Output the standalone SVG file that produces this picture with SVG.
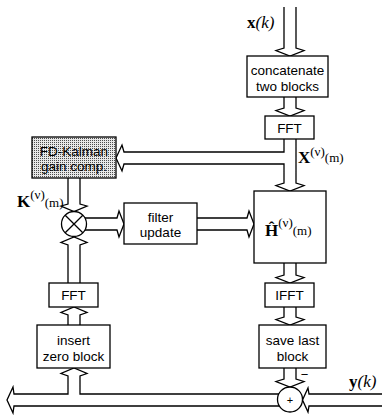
<svg xmlns="http://www.w3.org/2000/svg" width="382" height="415" viewBox="0 0 382 415">
<defs>
<pattern id="dots" width="2" height="2" patternUnits="userSpaceOnUse"><rect width="2" height="2" fill="#e8e8e8"/><rect width="1" height="1" fill="#4c4c4c"/></pattern>
</defs>
<style>
.box{fill:#fff;stroke:#000;stroke-width:1.3}
.ln{fill:none;stroke:#000;stroke-width:1.3;stroke-linejoin:miter}
.lbl{font-family:"Liberation Sans",Arial,sans-serif;font-size:13.5px;text-anchor:middle;fill:#000}
.m{font-family:"Liberation Serif","Times New Roman",serif;font-size:17px;fill:#000}
.b{font-weight:bold}
.i{font-style:italic}
.s{font-size:13px}
</style>
<rect width="382" height="415" fill="#fff"/>

<g id="connectors">
  <!-- x(k) input -->
  <path class="ln" d="M284,7 V48 L276,50.5 L290,56 L304,50.5 L296,48 V7"/>
  <!-- concat -> FFT -->
  <path class="ln" d="M284,97 V108 L276,110.5 L290,116 L304,110.5 L296,108 V97"/>
  <!-- FFT -> H and branch to gain -->
  <path class="ln" d="M296,139 V183 L304,185.5 L290,191 L276,185.5 L284,183 V164 H124 L122,171 L116,158 L122,145 L124,152 H284 V139"/>
  <!-- gain -> multiplier -->
  <path class="ln" d="M68,178 V204 L61,206 L74,211.5 L87,206 L80,204 V178"/>
  <!-- multiplier -> filter update -->
  <path class="ln" d="M85,218 H117 L119,211 L124,224 L119,237 L117,230 H85"/>
  <!-- filter update -> H -->
  <path class="ln" d="M197,218 H247 L249,211 L254,224 L249,237 L247,230 H197"/>
  <!-- H -> IFFT -->
  <path class="ln" d="M284,263 V275 L276,277.5 L290,283 L304,277.5 L296,275 V263"/>
  <!-- IFFT -> save -->
  <path class="ln" d="M284,307 V317 L276,319.5 L290,325 L304,319.5 L296,317 V307"/>
  <!-- save -> sum -->
  <path class="ln" d="M284,368 V379 L276,381.5 L290,387 L304,381.5 L296,379 V368"/>
  <!-- y(k) input -->
  <path class="ln" d="M382,394 H309 L308,388 L302.5,400 L308,412 L309,406 H382"/>
  <!-- bottom channel left, branch up to insert -->
  <path class="ln" d="M279,394 H80 V376 L87,373.5 L74,368 L61,373.5 L68,376 V394 H14 L13,387 L7,400 L13,413 L14,406 H279"/>
  <!-- insert -> FFT -->
  <path class="ln" d="M68,325 V315 L61,312.5 L74,307 L87,312.5 L80,315 V325"/>
  <!-- FFT -> multiplier -->
  <path class="ln" d="M68,283 V245 L61,242.5 L74,237 L87,242.5 L80,245 V283"/>
</g>

<g id="concat"><rect class="box" x="247" y="56" width="81" height="41"/><text class="lbl" x="287.5" y="75">concatenate</text><text class="lbl" x="287.5" y="90.5">two blocks</text></g>
<g id="fft1"><rect class="box" x="265" y="116" width="49" height="23"/><text class="lbl" x="289.5" y="132.5">FFT</text></g>
<g id="gain"><rect x="32" y="137" width="84" height="41" fill="url(#dots)" stroke="#000" stroke-width="1.3"/><text class="lbl" x="74" y="155.5">FD-Kalman</text><text class="lbl" x="74" y="171">gain comp.</text></g>
<g id="H"><rect class="box" x="254" y="191" width="72" height="72"/>
  <text class="m" x="265" y="236"><tspan class="b">Ĥ</tspan><tspan class="s" dy="-9">(ν)</tspan><tspan class="s" dy="8">(m)</tspan></text>
</g>
<g id="mult"><circle cx="74" cy="224" r="12.5" fill="#fff" stroke="#000" stroke-width="1.3"/><path class="ln" d="M65.2,215.2 L82.8,232.8 M82.8,215.2 L65.2,232.8"/></g>
<g id="update"><rect class="box" x="124" y="203" width="73" height="41"/><text class="lbl" x="160.5" y="221.5">filter</text><text class="lbl" x="160.5" y="237">update</text></g>
<g id="ifft"><rect class="box" x="265" y="283" width="49" height="24"/><text class="lbl" x="289.5" y="300">IFFT</text></g>
<g id="save"><rect class="box" x="259" y="325" width="67" height="43"/><text class="lbl" x="292.5" y="345">save last</text><text class="lbl" x="292.5" y="360.5">block</text></g>
<g id="fft2"><rect class="box" x="49" y="283" width="49" height="24"/><text class="lbl" x="73.5" y="300">FFT</text></g>
<g id="insert"><rect class="box" x="37" y="325" width="73" height="43"/><text class="lbl" x="73.5" y="344.5">insert</text><text class="lbl" x="73.5" y="360.5">zero block</text></g>
<g id="sum"><circle cx="290" cy="399.5" r="12.5" fill="#fff" stroke="#000" stroke-width="1.3"/><text x="290" y="403.5" font-family="Liberation Sans,Arial,sans-serif" font-size="11" text-anchor="middle">+</text></g>

<g id="labels">
  <text class="m" x="247" y="28"><tspan class="b">x</tspan><tspan class="i">(k)</tspan></text>
  <text class="m" x="349" y="387"><tspan class="b">y</tspan><tspan class="i">(k)</tspan></text>
  <text class="m" x="298" y="163"><tspan class="b">X</tspan><tspan class="s" dy="-7">(ν)</tspan><tspan class="s" dy="6">(m)</tspan></text>
  <text class="m" x="17" y="207"><tspan class="b">K</tspan><tspan class="s" dy="-8">(ν)</tspan><tspan class="s" dy="8">(m)</tspan></text>
  <text x="304.5" y="379" font-family="Liberation Sans,Arial,sans-serif" font-size="13" text-anchor="middle">−</text>
</g>
</svg>
